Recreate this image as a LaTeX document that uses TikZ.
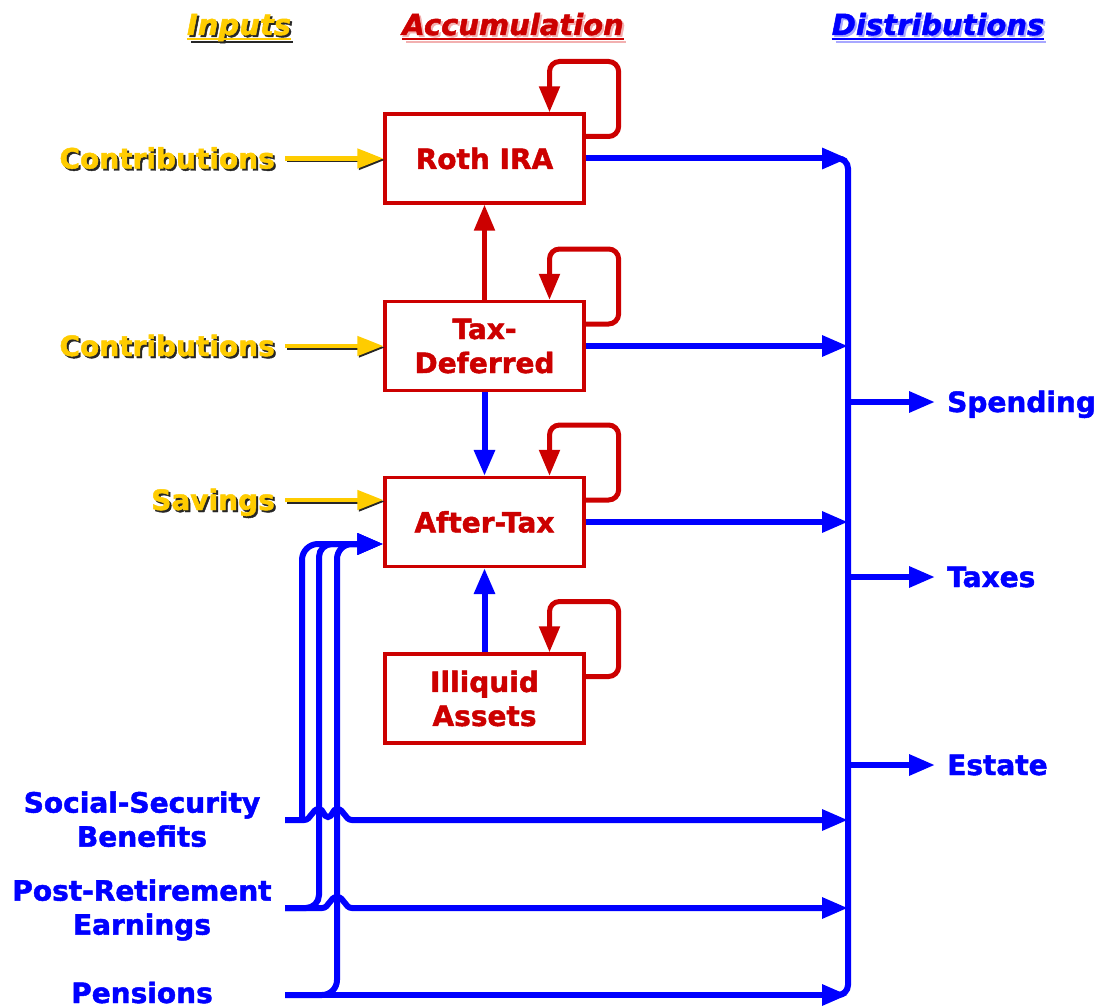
\documentclass[tikz,border=0pt]{standalone}
\usepackage{fontspec}
\setmainfont{DejaVu Sans}[BoldFeatures={FakeBold=1.6},BoldItalicFeatures={FakeBold=1.6}]
\usetikzlibrary{arrows.meta}
\definecolor{accred}{HTML}{CC0000}
\definecolor{distblue}{HTML}{0000FF}
\definecolor{inyel}{HTML}{FFCC00}
\definecolor{redshadow}{HTML}{F2B0B0}
\definecolor{blueshadow}{HTML}{A8A8FF}
\begin{document}
\begin{tikzpicture}[x=1pt,y=-1pt,
  every node/.style={font=\fontsize{28}{34}\selectfont\bfseries},
  box/.style={draw=accred, line width=3.2pt, fill=white, minimum width=199pt, minimum height=89pt,
    inner sep=0pt, align=center, text=accred},
  redloop/.style={draw=accred, line width=5pt, rounded corners=10pt, -{Triangle[length=26pt,width=20pt]}},
  redarr/.style={draw=accred, line width=5pt, -{Triangle[length=26pt,width=20pt]}},
  bluearr/.style={draw=distblue, line width=6pt, -{Triangle[length=26pt,width=20pt]}},
  blueline/.style={draw=distblue, line width=6pt},
  yelarr/.style={draw=inyel, line width=4.5pt, -{Triangle[length=26pt,width=19pt]}},
  yelshadow/.style={draw=black!85, line width=4.5pt, -{Triangle[length=26pt,width=19pt]}},
  inlabel/.style={text=inyel, inner xsep=10pt, inner ysep=0pt, text height=20pt, text depth=0pt},
  inshadow/.style={text=black!85, inner xsep=10pt, inner ysep=0pt, text height=20pt, text depth=0pt},
  outlabel/.style={text=distblue, inner xsep=12pt, inner ysep=0pt, text height=20pt, text depth=0pt},
  srclabel/.style={text=distblue, align=center, inner sep=0pt, text depth=0pt},
  title/.style={font=\fontsize{29}{34}\selectfont\bfseries\itshape, inner sep=0pt, anchor=base}
]
\useasboundingbox (0,0) rectangle (1098,1006);

% titles
\node[title, text=black!85] (tinS) at (241,37) {Inputs};
\draw[black!85, line width=2pt] ([shift={(2pt,-5pt)}]tinS.base west) -- ([shift={(0pt,-5pt)}]tinS.base east);
\node[title, text=inyel] (tin) at (239,35) {Inputs};
\draw[inyel, line width=2pt] ([yshift=-4pt]tin.base west) -- ([yshift=-4pt]tin.base east);

\node[title, text=redshadow] (taccS) at (515,37) {Accumulation};
\draw[redshadow, line width=2pt] ([shift={(2pt,-5pt)}]taccS.base west) -- ([shift={(0pt,-5pt)}]taccS.base east);
\node[title, text=accred] (tacc) at (513,35) {Accumulation};
\draw[accred, line width=2pt] ([yshift=-4pt]tacc.base west) -- ([yshift=-4pt]tacc.base east);

\node[title, text=blueshadow] (tdistS) at (940,37) {Distributions};
\draw[blueshadow, line width=2pt] ([shift={(2pt,-5pt)}]tdistS.base west) -- ([shift={(0pt,-5pt)}]tdistS.base east);
\node[title, text=distblue] (tdist) at (938,35) {Distributions};
\draw[distblue, line width=2pt] ([yshift=-4pt]tdist.base west) -- ([yshift=-4pt]tdist.base east);

% boxes
\node[box] (roth) at (484.5,158.5) {Roth IRA};
\node[box] (taxdef) at (484.5,346) {Tax-\\Deferred};
\node[box] (after) at (484.5,522) {After-Tax};
\node[box] (illiq) at (484.5,698.5) {Illiquid\\Assets};

% self loops
\foreach \b in {roth,taxdef,after,illiq}{
  \draw[redloop] ([yshift=22pt]\b.east) -- ++(33,0) -- ++(0,-75) -| ([xshift=65pt]\b.north);
}

% inter-box arrows
\draw[redarr] (taxdef) -- (roth);
\draw[bluearr] (taxdef) -- (after);
\draw[bluearr] (illiq) -- (after);

% input labels and yellow arrows
\node[inshadow, anchor=east] (c1s) at (287,160.5) {Contributions};
\node[inlabel, anchor=east] (c1) at (285,158.5) {Contributions};
\node[inshadow, anchor=east] (c2s) at (287,348) {Contributions};
\node[inlabel, anchor=east] (c2) at (285,346) {Contributions};
\node[inshadow, anchor=east] (savs) at (287,502) {Savings};
\node[inlabel, anchor=east] (sav) at (285,500) {Savings};

\draw[yelshadow] ([shift={(1.5pt,-1.5pt)}]c1.east) -- ([shift={(1.5pt,-1.5pt)}]c1.east -| roth.west);
\draw[yelarr] (c1.east) -- (c1.east -| roth.west);
\draw[yelshadow] ([shift={(1.5pt,-1.5pt)}]c2.east) -- ([shift={(1.5pt,-1.5pt)}]c2.east -| taxdef.west);
\draw[yelarr] (c2.east) -- (c2.east -| taxdef.west);
\draw[yelshadow] ([shift={(1.5pt,-1.5pt)}]sav.east) -- ([shift={(1.5pt,-1.5pt)}]sav.east -| after.west);
\draw[yelarr] (sav.east) -- (sav.east -| after.west);

% bus
\coordinate (bustop) at (848,158.5);
\coordinate (busbot) at (848,995);
\draw[blueline, rounded corners=10pt] ([xshift=-12pt]bustop) -- (bustop) -- (busbot) -- ([xshift=-12pt]busbot);

% outputs from boxes
\draw[bluearr] (roth.east) -- (roth.east -| bustop);
\draw[bluearr] (taxdef.east) -- (taxdef.east -| bustop);
\draw[bluearr] (after.east) -- (after.east -| bustop);

% distributions
\node[outlabel, anchor=west] (spend) at (935,402) {Spending};
\node[outlabel, anchor=west] (taxes) at (935,577) {Taxes};
\node[outlabel, anchor=west] (estate) at (935,765) {Estate};
\draw[bluearr] (spend.west -| bustop) -- (spend.west);
\draw[bluearr] (taxes.west -| bustop) -- (taxes.west);
\draw[bluearr] (estate.west -| bustop) -- (estate.west);

% other sources
\node[srclabel] (ss) at (142,819) {Social-Security\\Benefits};
\node[srclabel] (pr) at (142,907) {Post-Retirement\\Earnings};
\node[srclabel, anchor=base] (pen) at (142,1003) {Pensions};

\coordinate (ssin) at (285,820);
\coordinate (prin) at (285,908);
\coordinate (penin) at (285,995);
\coordinate (v1) at (302,544);
\coordinate (v2) at (319,544);
\coordinate (v3) at (337,544);
\coordinate (atin) at ([yshift=-22pt]after.west);

% vertical branches to After-Tax
\draw[bluearr, rounded corners=16pt] (ssin -| v1) -- (v1) -- (atin);
\draw[bluearr, rounded corners=13pt] (prin) -- (prin -| v2) -- (v2) -- (atin);
\draw[bluearr, rounded corners=15pt] (penin) -- (penin -| v3) -- (v3) -- (atin);

% horizontal lines with hops
\draw[bluearr] (ssin) -- ([xshift=-15pt]ssin -| v2)
  to[out=0,in=180] ([yshift=11pt]ssin -| v2)
  to[out=0,in=180] ([shift={(9pt,3pt)}]ssin -| v2)
  to[out=0,in=180] ([yshift=11pt]ssin -| v3)
  to[out=0,in=180] ([xshift=15pt]ssin -| v3)
  -- (ssin -| bustop);
\draw[bluearr] (prin) -- ([xshift=-15pt]prin -| v3)
  to[out=0,in=180] ([yshift=11pt]prin -| v3)
  to[out=0,in=180] ([xshift=15pt]prin -| v3)
  -- (prin -| bustop);
\draw[bluearr] (penin) -- (penin -| bustop);
\end{tikzpicture}
\end{document}
